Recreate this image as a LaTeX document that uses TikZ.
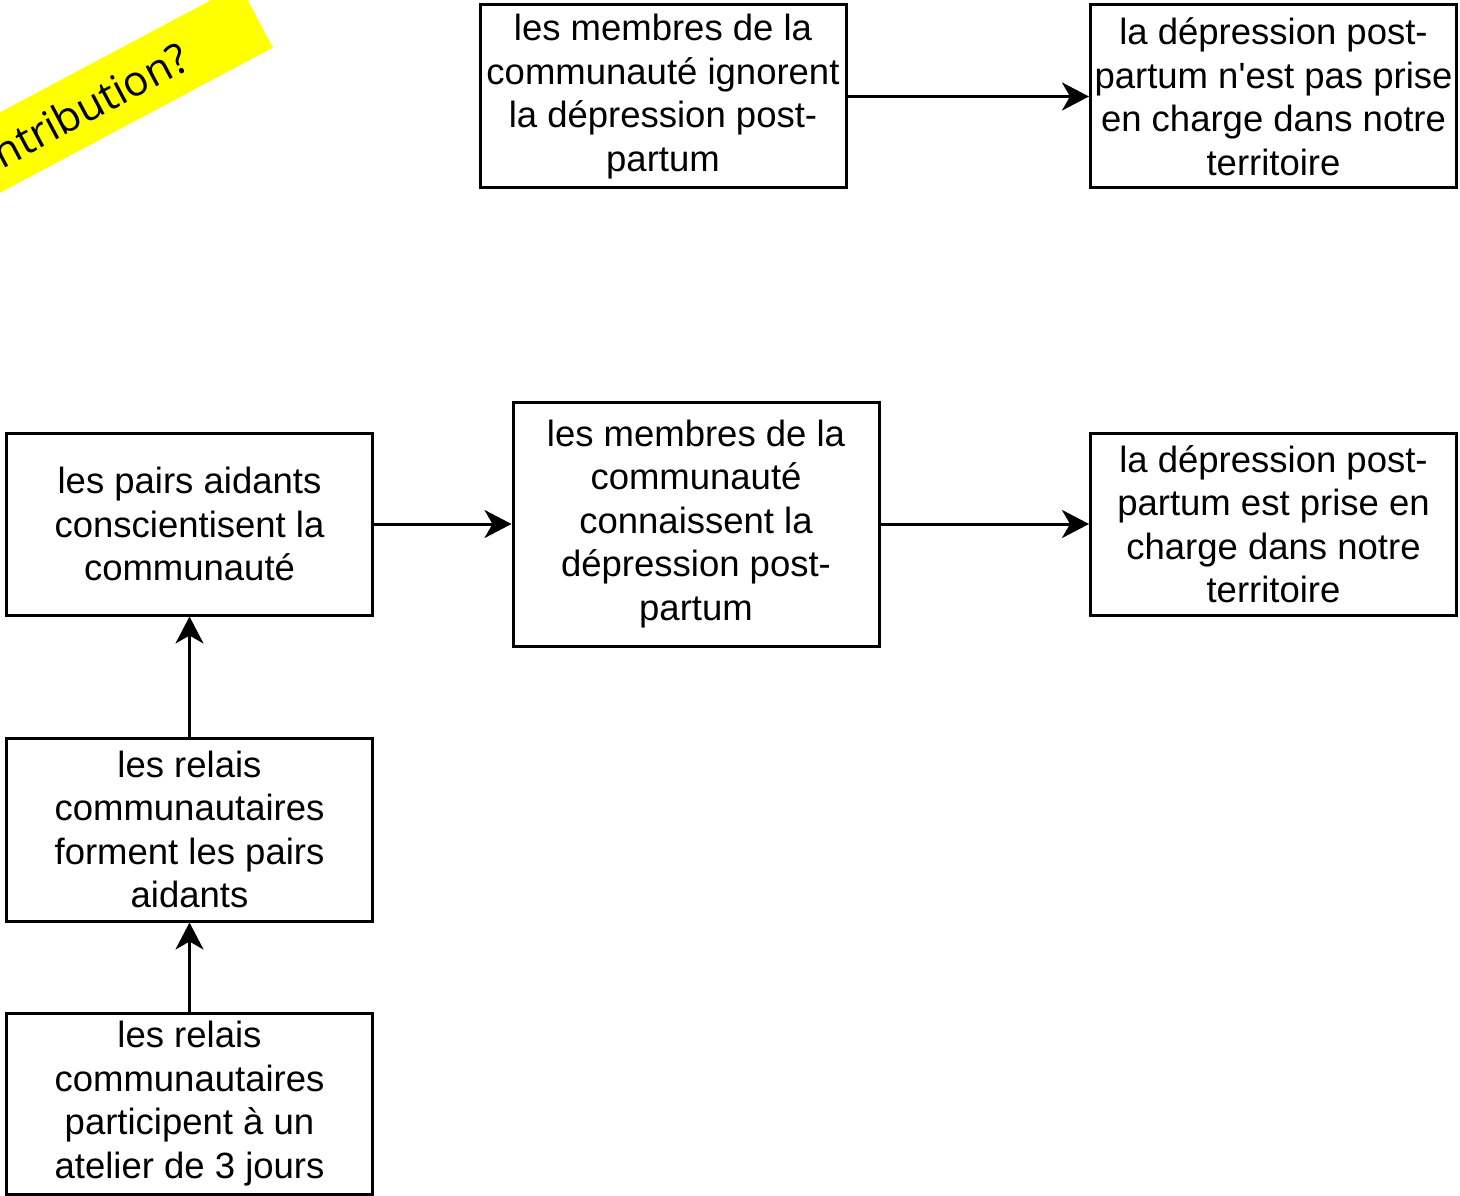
\documentclass[tikz,border=0pt]{standalone}
\usepackage{fontspec}
\setmainfont{Liberation Sans}
\newfontfamily\bannerfont{Open Sans}
\usetikzlibrary{arrows.meta}

\begin{document}
\begin{tikzpicture}[x=1pt, y=-1pt,
  box/.style={draw=black, line width=3pt, fill=white, align=center,
    inner sep=0pt, font=\fontsize{36.5pt}{43.5pt}\selectfont},
  wide/.style={box, minimum width=366pt, minimum height=183pt},
  tall/.style={box, minimum width=366pt, minimum height=244pt},
  link/.style={line width=3pt, -{Stealth[length=27pt, width=28pt, inset=8pt]}}
]
\clip (0,0) rectangle (1460,1196);
\fill[white] (0,0) rectangle (1460,1196);

% yellow banner in the top-left corner
\node[fill={rgb,255:red,255;green,255;blue,0}, rotate=28, minimum width=429pt,
  minimum height=71pt, inner sep=0pt,
  font=\bannerfont\fontsize{42pt}{50pt}\selectfont] (banner) at (67,117) {Contribution?};

% first chain
\node[wide] (ignore) at (663,96.5) {les membres de la\\communauté ignorent\\la dépression post-\\partum};
\node[wide] (nocare) at (1273.5,96.5) {la dépression post-\\partum n\textquotesingle est pas prise\\en charge dans notre\\territoire};

% second chain
\node[wide, minimum height=182pt] (aware) at (189.5,524) {les pairs aidants\\conscientisent la\\communauté};
\node[tall] (know) at (696,524) {les membres de la\\communauté\\connaissent la\\dépression post-\\partum};
\node[wide, minimum height=182pt] (care) at (1273.5,524) {la dépression post-\\partum est prise en\\charge dans notre\\territoire};
\node[wide] (train) at (189.5,829.5) {les relais\\communautaires\\forment les pairs\\aidants};
\node[wide, minimum height=181pt] (workshop) at (189.5,1103.5) {les relais\\communautaires\\participent à un\\atelier de 3 jours};

% connectors
\draw[link] (ignore) -- (nocare);
\draw[link] (aware) -- (know);
\draw[link] (know) -- (care);
\draw[link] (train) -- (aware);
\draw[link] (workshop) -- (train);
\end{tikzpicture}
\end{document}
